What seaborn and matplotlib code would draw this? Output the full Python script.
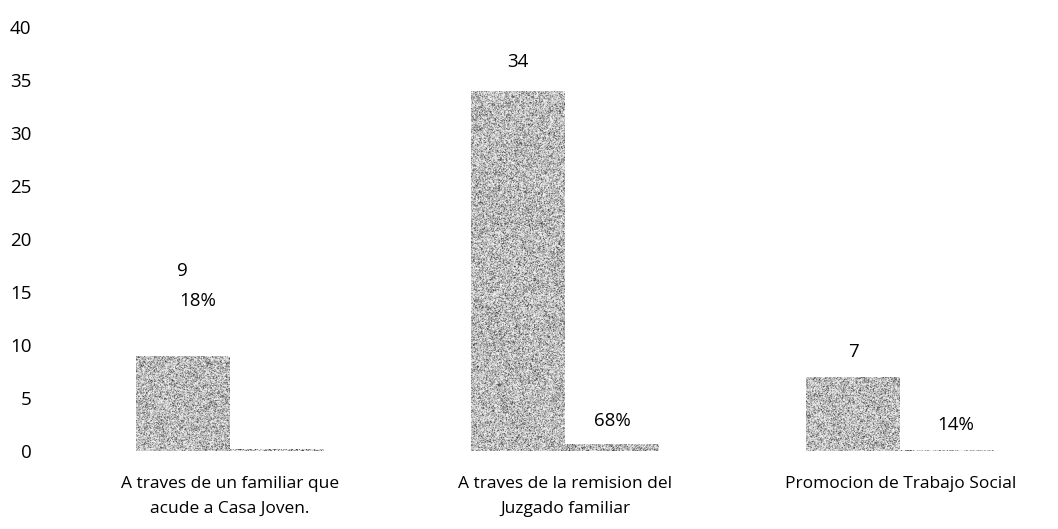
import numpy as np
import pandas as pd
import matplotlib
matplotlib.use("Agg")
import matplotlib.pyplot as plt
import seaborn as sns

# data
categories = [
    "A traves de un familiar que\nacude a Casa Joven.",
    "A traves de la remision del\nJuzgado familiar",
    "Promocion de Trabajo Social",
]
counts = [9, 34, 7]
shares = [0.18, 0.68, 0.14]
share_labels = ["18%", "68%", "14%"]

df = pd.DataFrame({
    "categoria": categories * 2,
    "serie": ["Cantidad"] * 3 + ["Porcentaje"] * 3,
    "valor": counts + shares,
})

sns.set_theme(style="white")
plt.rcParams["font.family"] = ["Open Sans", "DejaVu Sans"]
plt.rcParams["text.color"] = "black"
plt.rcParams["xtick.color"] = "black"
plt.rcParams["ytick.color"] = "black"

fig = plt.figure(figsize=(10.58, 5.29), dpi=100)
ax = fig.add_axes([0.0586, 0.1474, 0.9414, 0.8015])

sns.barplot(
    data=df, x="categoria", y="valor", hue="serie",
    palette=["#b8b8b8", "#b8b8b8"], width=0.56, gap=0,
    legend=False, ax=ax, linewidth=0, saturation=1,
)

# speckled halftone fill, like the scanned print
rng = np.random.default_rng(3)
for patch in ax.patches:
    x0, y0 = patch.get_x(), patch.get_y()
    w, h = patch.get_width(), patch.get_height()
    if h <= 0:
        continue
    npx_w = max(int(w * 335 * 1.5), 2)
    npx_h = max(int(h * 10.6 * 1.5), 2)
    noise = rng.random((npx_h, npx_w))
    tex = np.where(noise < 0.18, 0.25, np.where(noise < 0.48, 0.64, 0.93))
    im = ax.imshow(tex, cmap="gray", vmin=0, vmax=1, extent=[x0, x0 + w, y0, y0 + h],
                   aspect="auto", interpolation="antialiased", zorder=2)
    im.set_clip_path(patch)
    patch.set_alpha(0)

ax.set_xlim(-0.5, 2.47)
ax.set_ylim(0, 40)
ax.set_yticks(range(0, 41, 5))
ax.set_xlabel("")
ax.set_ylabel("")
ax.tick_params(axis="y", length=0, pad=22, labelsize=13.5)
ax.tick_params(axis="x", length=0, pad=18, labelsize=12.5)
for lab in ax.get_xticklabels():
    lab.set_linespacing(1.75)
for s in ax.spines.values():
    s.set_visible(False)

# data labels (moved by hand in the original)
count_pos = [(-0.14, 17.0), (0.86, 36.7), (1.86, 9.3)]
share_pos = [(-0.095, 14.2), (1.14, 2.8), (2.165, 2.5)]
for v, (x, y) in zip(counts, count_pos):
    ax.text(x, y, str(v), ha="center", va="center", fontsize=13.5)
for t, (x, y) in zip(share_labels, share_pos):
    ax.text(x, y, t, ha="center", va="center", fontsize=13.5)

fig.savefig("out.png", dpi=100)
